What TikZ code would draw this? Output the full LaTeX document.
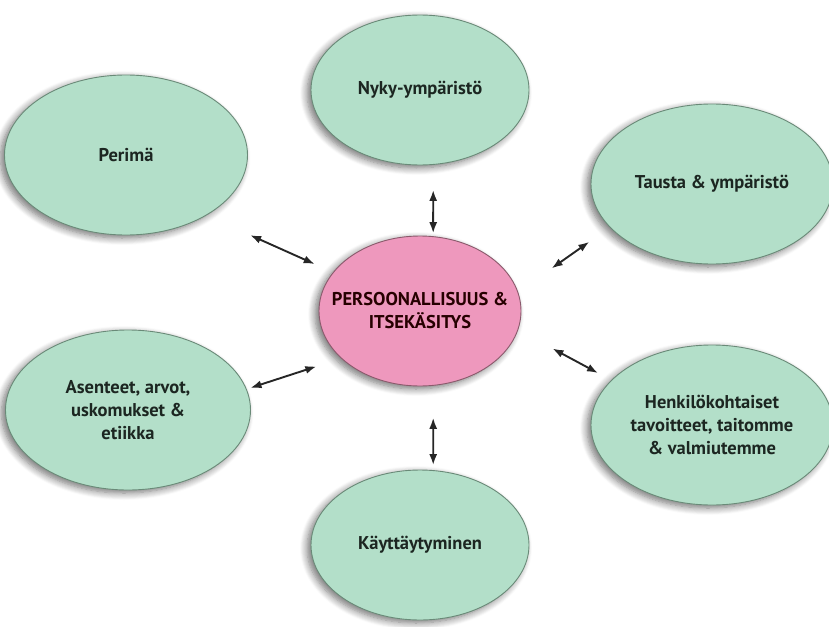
\documentclass[tikz,border=0pt]{standalone}
\usepackage{fontspec}
\setmainfont{PT Sans}
\usepackage{tikz}
\usetikzlibrary{arrows.meta,shapes.geometric,shadows.blur}
\definecolor{mintfill}{HTML}{B3DFC9}
\definecolor{mintline}{HTML}{6A8A78}
\definecolor{rosefill}{HTML}{EE98BD}
\definecolor{roseline}{HTML}{8A5A6C}
\definecolor{inktext}{HTML}{1C2621}
\tikzset{
  factorbox/.style={ellipse, draw=mintline, line width=0.9pt, fill=mintfill, align=center,
    text=inktext, font=\fontsize{18.5}{23}\selectfont\bfseries, inner xsep=-30pt, inner ysep=-15pt,
    blur shadow={shadow xshift=-4pt, shadow yshift=-3pt, shadow blur steps=8, shadow blur radius=7pt, shadow opacity=55}},
  corebox/.style={factorbox, draw=roseline, fill=rosefill, text=black!85!red},
  biline/.style={{Latex[length=11pt,width=8pt]}-{Latex[length=11pt,width=8pt]}, line width=1.9pt, black!85},
}

\begin{document}
\begin{tikzpicture}[x=1pt, y=-1pt]
  \useasboundingbox (0,0) rectangle (829,626);

  \node[corebox, minimum width=202pt, minimum height=150pt] (core) at (420,311) {PERSOONALLISUUS \&\\ITSEKÄSITYS};

  \node[factorbox, minimum width=218pt, minimum height=150pt] (nyky) at (420,90) {Nyky-ympäristö};
  \node[factorbox, minimum width=243pt, minimum height=160pt] (perima) at (126,155) {Perimä};
  \node[factorbox, minimum width=242pt, minimum height=160pt] (tausta) at (712,184) {Tausta \& ympäristö};
  \node[factorbox, minimum width=245pt, minimum height=160pt] (asenteet) at (128,410) {Asenteet, arvot,\\uskomukset \&\\etiikka};
  \node[factorbox, minimum width=242pt, minimum height=160pt] (henk) at (712,425) {Henkilökohtaiset\\tavoitteet, taitomme\\\& valmiutemme};
  \node[factorbox, minimum width=218pt, minimum height=150pt] (kayt) at (420,545) {Käyttäytyminen};

  \draw[biline, shorten <=25pt, shorten >=3pt] (nyky.-80.8) -- (core.80.8);
  \draw[biline, shorten <=32pt, shorten >=5pt] (core.-80.8) -- (kayt.80.8);
  \draw[biline, shorten <=48pt, shorten >=20pt] (perima.-37.5) -- (core.156.3);
  \draw[biline, shorten <=25pt, shorten >=41pt] (tausta.203.6) -- (core.11.7);
  \draw[biline, shorten <=4pt, shorten >=26pt] (asenteet.10) -- (core.211.8);
  \draw[biline, shorten <=15pt, shorten >=39pt] (henk.156.6) -- (core.-11.3);
\end{tikzpicture}
\end{document}
